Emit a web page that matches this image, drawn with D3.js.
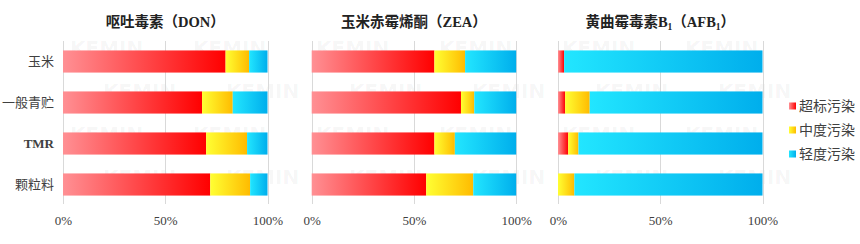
<!DOCTYPE html>
<html>
<head>
<meta charset="utf-8">
<script src="https://cdn.jsdelivr.net/npm/d3@7"></script>
<style>
  html, body { margin: 0; padding: 0; background: #fff; }
  svg { display: block; }
  .serif { font-family: "Liberation Serif", "Noto Sans CJK SC", serif; }
</style>
</head>
<body>
<svg id="chart" width="860" height="244"></svg>
<script>
// categories & series
const categories = ['玉米', '一般青贮', 'TMR', '颗粒料'];
const seriesNames = ['超标污染', '中度污染', '轻度污染'];
const ticks = [0, 50, 100];

// values in percent, per toxin panel
const donOver = [79.5, 68, 70, 72];
const donMid = [11.5, 15, 20, 19.5];
const donLight = [9, 17, 10, 8.5];

const zeaOver = [60, 73, 60, 56];
const zeaMid = [15, 6.5, 10, 23];
const zeaLight = [25, 20.5, 30, 21];

const afbOver = [3, 3.5, 5, 0];
const afbMid = [0, 12, 5, 8];
const afbLight = [97, 84.5, 90, 92];

const panels = [
  { title: ['呕吐毒素（DON）'], over: donOver, mid: donMid, light: donLight },
  { title: ['玉米赤霉烯酮（ZEA）'], over: zeaOver, mid: zeaMid, light: zeaLight },
  { title: ['黄曲霉毒素B', '1', '（AFB', '1', '）'], over: afbOver, mid: afbMid, light: afbLight },
];

const svg = d3.select('#chart');
const defs = svg.append('defs');

const grads = [
  { id: 'g-red', from: '#ff9094', to: '#ff0000' },
  { id: 'g-yel', from: '#ffff33', to: '#ffbb00' },
  { id: 'g-blu', from: '#22e6ff', to: '#00aeec' },
];
grads.forEach((g) => {
  const lg = defs.append('linearGradient').attr('id', g.id)
    .attr('x1', 0).attr('x2', 1).attr('y1', 0).attr('y2', 0);
  lg.append('stop').attr('offset', '0%').attr('stop-color', g.from);
  lg.append('stop').attr('offset', '100%').attr('stop-color', g.to);
});
const color = d3.scaleOrdinal().domain(seriesNames).range(grads.map((g) => `url(#${g.id})`));

const plotTop = 41, plotBottom = 205;
const y = d3.scaleBand().domain(categories).range([plotTop, plotBottom])
  .paddingInner(0.46).paddingOuter(0.23);

const panelX = [63, 311.7, 558];
const panelW = 204.5;

// faint watermark behind everything
const wm = svg.append('g').attr('pointer-events', 'none');
d3.range(4).forEach((r) => {
  const off = r % 2 ? 103 : 70;
  d3.range(0, 7).forEach((c) => {
    const wx = off + c * 123;
    if (wx + 80 > 860) return;
    wm.append('text')
      .attr('x', wx).attr('y', 55 + r * 43)
      .attr('font-family', 'DejaVu Sans, sans-serif').attr('font-weight', 'bold')
      .attr('font-size', 20).attr('fill', '#000').attr('fill-opacity', 0.045)
      .text('KEMIN');
  });
});

panels.forEach((p, pi) => {
  const x = d3.scaleLinear().domain([0, 100]).range([panelX[pi], panelX[pi] + panelW]);
  const g = svg.append('g');

  // gridlines
  g.selectAll('line.grid').data(ticks).join('line')
    .attr('x1', (d) => Math.round(x(d)) + 0.5).attr('x2', (d) => Math.round(x(d)) + 0.5)
    .attr('y1', plotTop).attr('y2', plotBottom - 1)
    .attr('stroke', '#d9d9d9').attr('stroke-width', 1);

  const rows = categories.map((c, i) => ({
    cat: c,
    [seriesNames[0]]: p.over[i],
    [seriesNames[1]]: p.mid[i],
    [seriesNames[2]]: p.light[i],
  }));
  const stacked = d3.stack().keys(seriesNames)(rows);

  g.selectAll('g.series').data(stacked).join('g')
    .attr('fill', (s) => color(s.key))
    .selectAll('rect').data((s) => s.filter((d) => d[1] - d[0] > 0)).join('rect')
    .attr('x', (d) => x(d[0]))
    .attr('width', (d) => x(d[1]) - x(d[0]))
    .attr('y', (d) => y(d.data.cat))
    .attr('height', y.bandwidth());

  // x tick labels
  const axis = d3.axisBottom(x).tickValues(ticks).tickFormat((d) => d + '%').tickSize(0);
  const ax = g.append('g').attr('transform', `translate(0,${plotBottom + 16})`).call(axis);
  ax.select('.domain').remove();
  ax.selectAll('text').attr('class', 'serif').attr('font-size', 13).attr('fill', '#404040')
    .attr('dy', '0.32em').attr('y', 0);

  // title
  const t = g.append('text').attr('class', 'serif')
    .attr('x', x(50)).attr('y', 27).attr('text-anchor', 'middle')
    .attr('font-size', 14.5).attr('font-weight', 'bold').attr('fill', '#222');
  p.title.forEach((part, k) => {
    const ts = t.append('tspan').text(part);
    if (part === '1') ts.attr('font-size', 9.5).attr('dy', 3);
    else if (k > 0 && p.title[k - 1] === '1') ts.attr('dy', -3);
  });
});

// category labels
const yAxis = d3.axisLeft(y).tickSize(0).tickPadding(0);
const ya = svg.append('g').attr('transform', 'translate(54,0)').call(yAxis);
ya.select('.domain').remove();
ya.selectAll('text').attr('class', 'serif').attr('font-size', 13).attr('fill', '#404040')
  .attr('font-weight', (d) => (d === 'TMR' ? 'bold' : 'normal'));

// legend
const legend = svg.append('g').attr('transform', 'translate(789,106)');
const li = legend.selectAll('g').data(seriesNames).join('g')
  .attr('transform', (d, i) => `translate(0,${i * 24})`);
li.append('rect').attr('x', 0).attr('y', -3.5).attr('width', 7).attr('height', 7)
  .attr('fill', (d) => color(d));
li.append('text').attr('class', 'serif').attr('x', 10).attr('dy', '0.35em')
  .attr('font-size', 14).attr('fill', '#404040').text((d) => d);
</script>
</body>
</html>
